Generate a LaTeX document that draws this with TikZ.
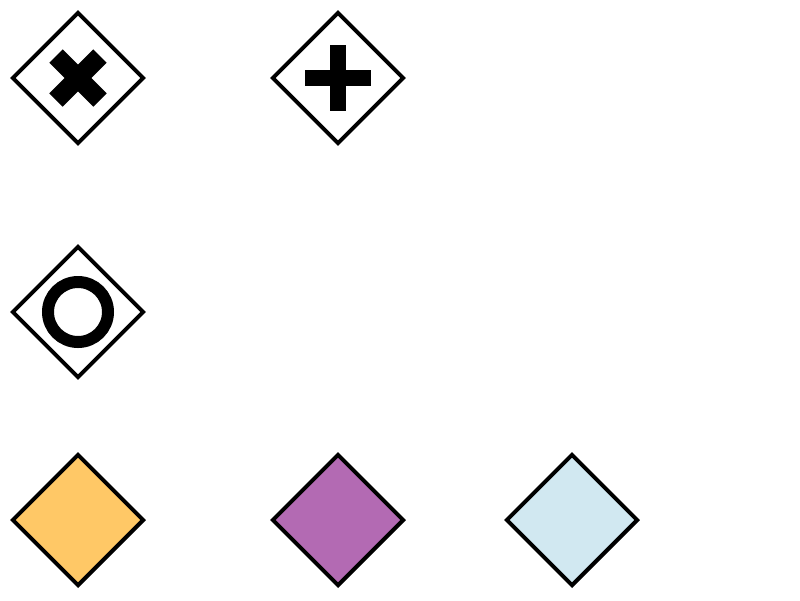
\documentclass[tikz,border=0pt]{standalone}
\usetikzlibrary{shapes.geometric}

\definecolor{gateorange}{RGB}{255,200,102}
\definecolor{gatepurple}{RGB}{179,106,179}
\definecolor{gateblue}{RGB}{209,232,241}

\begin{document}
\begin{tikzpicture}[
  x=0.025cm, y=-0.025cm,
  gate/.style={diamond, draw=black, line width=2.8pt, minimum size=3.3cm, inner sep=0pt, fill=white},
  xbar/.style={draw=black, line width=0.475cm, line cap=butt},
  plusbar/.style={draw=black, line width=0.4cm, line cap=butt},
  ring/.style={draw=black, line width=0.3cm}
]
\useasboundingbox (0,0) rectangle (800,600);

\node[gate] (gx)    at (78,78)   {};
\node[gate] (gplus) at (338,78)  {};
\node[gate] (gor)   at (78,312)  {};
\node[gate, fill=gateorange] (gorange) at (78,520)  {};
\node[gate, fill=gatepurple] (gpurple) at (338,520) {};
\node[gate, fill=gateblue]   (gblue)   at (572,520) {};

% exclusive
\draw[xbar] ([shift={(-22,-22)}]gx.center) -- ([shift={(22,22)}]gx.center);
\draw[xbar] ([shift={(-22,22)}]gx.center) -- ([shift={(22,-22)}]gx.center);

% parallel
\draw[plusbar] ([shift={(-33,0)}]gplus.center) -- ([shift={(33,0)}]gplus.center);
\draw[plusbar] ([shift={(0,-33)}]gplus.center) -- ([shift={(0,33)}]gplus.center);

% inclusive
\draw[ring] (gor.center) circle (30);
\end{tikzpicture}
\end{document}
